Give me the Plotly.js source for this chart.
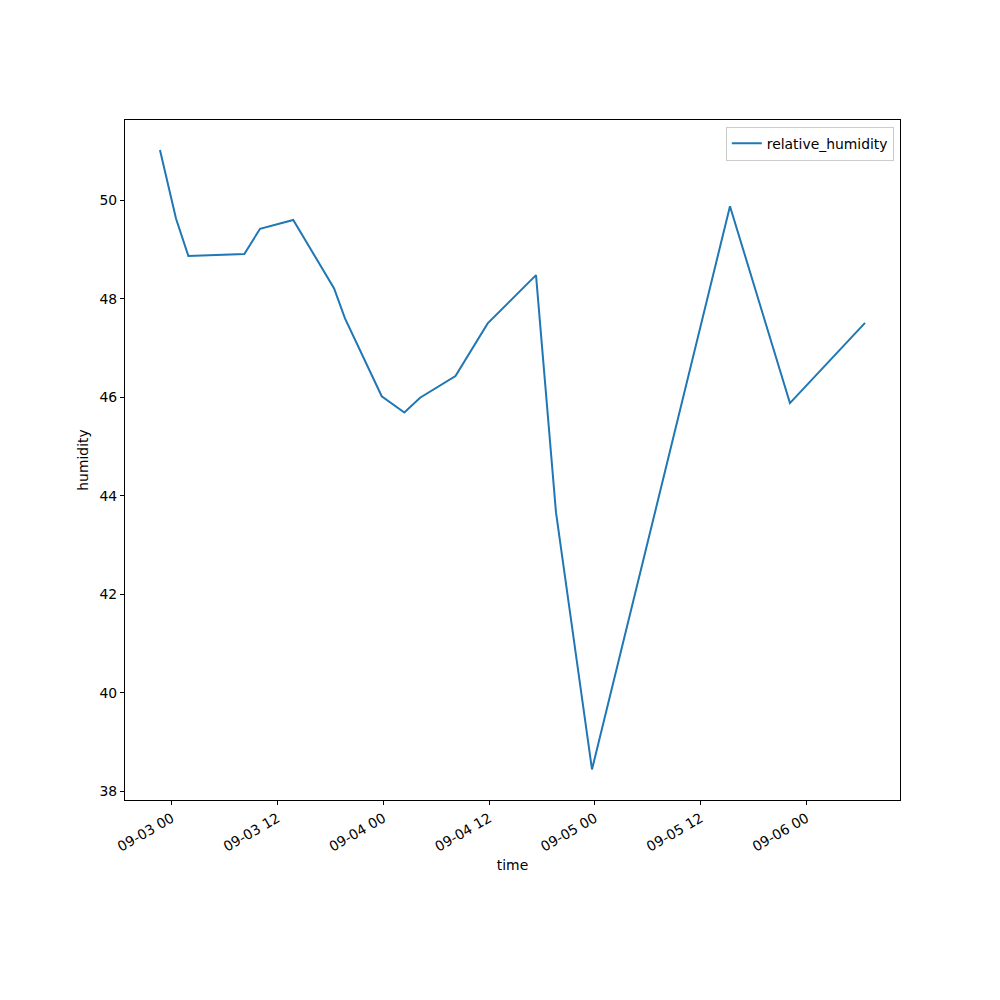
<!DOCTYPE html>
<html>
<head>
<meta charset="utf-8">
<script src="https://cdn.plot.ly/plotly-3.0.1.min.js"></script>
<style>body{margin:0;padding:0;background:#fff}</style>
</head>
<body>
<div id="chart" style="width:1000px;height:1000px"></div>
<script>
const times = [
  "2023-09-02 22:40","2023-09-03 00:29","2023-09-03 01:53","2023-09-03 08:14","2023-09-03 10:01",
  "2023-09-03 13:47","2023-09-03 18:25","2023-09-03 19:39","2023-09-03 23:49",
  "2023-09-04 02:23","2023-09-04 04:10","2023-09-04 08:11","2023-09-04 11:50",
  "2023-09-04 17:19","2023-09-04 19:35","2023-09-04 23:40","2023-09-05 15:19",
  "2023-09-05 22:07","2023-09-06 06:38"
];
const humidity = [
  51.02, 49.63, 48.87, 48.91, 49.42,
  49.60, 48.21, 47.60, 46.02,
  45.69, 45.99, 46.43, 47.50,
  48.48, 43.66, 38.44, 49.88,
  45.88, 47.51
];
const tickVals = ["2023-09-03 00:00","2023-09-03 12:00","2023-09-04 00:00","2023-09-04 12:00","2023-09-05 00:00","2023-09-05 12:00","2023-09-06 00:00"];
const tickText = ["09-03 00","09-03 12","09-04 00","09-04 12","09-05 00","09-05 12","09-06 00"];
const yTicks = [38,40,42,44,46,48,50];

const font = {family: "DejaVu Sans, sans-serif", size: 13.9, color: "#000"};

Plotly.newPlot("chart", [{
  x: times, y: humidity, type: "scatter", mode: "lines",
  name: "relative_humidity",
  line: {color: "#1f77b4", width: 2}
}], {
  width: 1000, height: 1000,
  margin: {l: 125, r: 100, t: 120, b: 200},
  paper_bgcolor: "#fff", plot_bgcolor: "#fff",
  font: font,
  showlegend: true,
  legend: {x: 0.992, xanchor: "right", y: 0.99, yanchor: "top",
           bordercolor: "#cccccc", borderwidth: 1, bgcolor: "rgba(255,255,255,0.8)",
           font: font, tracegroupgap: 0},
  xaxis: {
    type: "date",
    range: ["2023-09-02 18:42", "2023-09-06 10:36"],
    tickvals: tickVals, ticktext: tickText, tickangle: -30,
    ticks: "outside", ticklen: 4, tickcolor: "#000", tickwidth: 1,
    showgrid: false, zeroline: false,
    showline: true, linecolor: "#000", linewidth: 1, mirror: true,
    tickfont: font,
    title: {text: "time", font: font, standoff: 6}
  },
  yaxis: {
    range: [37.82, 51.63],
    tickvals: yTicks,
    ticks: "outside", ticklen: 4, tickcolor: "#000", tickwidth: 1,
    showgrid: false, zeroline: false,
    showline: true, linecolor: "#000", linewidth: 1, mirror: true,
    tickfont: font,
    title: {text: "humidity", font: font, standoff: 7}
  }
}, {displayModeBar: false, staticPlot: true});
</script>
</body>
</html>
